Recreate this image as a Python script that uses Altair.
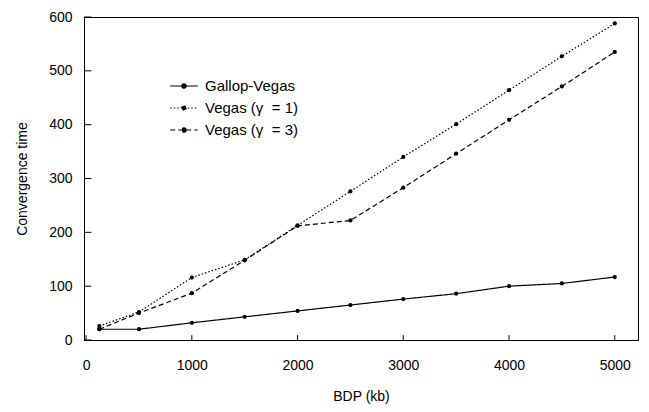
import altair as alt
import pandas as pd

bdp = [125, 500, 1000, 1500, 2000, 2500, 3000, 3500, 4000, 4500, 5000]
gallop = [20, 20, 32, 43, 54, 65, 76, 86, 100, 105, 117]
vegas1 = [26, 52, 116, 149, 213, 276, 340, 401, 464, 527, 588]
vegas3 = [20, 50, 87, 148, 212, 222, 283, 346, 409, 471, 535]
series_names = ["Gallop-Vegas", "Vegas (γ\u00a0\u00a0= 1)", "Vegas (γ\u00a0\u00a0= 3)"]
x_ticks = [0, 1000, 2000, 3000, 4000, 5000]
y_ticks = [0, 100, 200, 300, 400, 500, 600]

rows = []
for name, vals in zip(series_names, [gallop, vegas1, vegas3]):
    for x, y in zip(bdp, vals):
        rows.append({"bdp": x, "t": y, "series": name})
df = pd.DataFrame(rows)

FONT = "Liberation Sans"
xscale = alt.Scale(domain=[-20, 5220], nice=False, zero=False)
yscale = alt.Scale(domain=[0, 600], nice=False)

dash = alt.StrokeDash(
    "series:N",
    scale=alt.Scale(domain=series_names, range=[[1, 0], [1.5, 2], [5, 3]]),
    sort=series_names,
    legend=alt.Legend(
        title=None,
        orient="none",
        legendX=88,
        legendY=57,
        symbolType="M-1.25,0H1.25M0.2,0A0.2,0.2,0,1,1,-0.2,0A0.2,0.2,0,1,1,0.2,0Z",
        symbolSize=484,
        symbolStrokeWidth=1.2,
        symbolStrokeColor="black",
        symbolFillColor="black",
        labelFont=FONT,
        labelFontSize=15,
        labelColor="black",
        labelOffset=9,
        rowPadding=2,
    ),
)

xaxis = alt.Axis(values=x_ticks, format="d", ticks=False, grid=False, labelFont=FONT, labelFontSize=14,
                 labelColor="black", labelPadding=18, title="BDP (kb)", titleFont=FONT,
                 titleFontSize=14, titleFontWeight="normal", titleColor="black", titlePadding=17,
                 domainColor="black", labelFlush=False)
yaxis = alt.Axis(values=y_ticks, format="d", ticks=False, grid=False, labelFont=FONT, labelFontSize=14,
                 labelColor="black", labelPadding=12, title="Convergence time", titleFont=FONT,
                 titleFontSize=14, titleFontWeight="normal", titleColor="black", titlePadding=19,
                 domainColor="black", labelFlush=False)

base = alt.Chart(df)
lines = base.mark_line(color="black", strokeWidth=1.2).encode(
    x=alt.X("bdp:Q", scale=xscale, axis=xaxis),
    y=alt.Y("t:Q", scale=yscale, axis=yaxis),
    strokeDash=dash,
    detail="series:N",
)
points = base.mark_circle(color="black", size=18, opacity=1).encode(
    x=alt.X("bdp:Q", scale=xscale),
    y=alt.Y("t:Q", scale=yscale),
)

xt = pd.DataFrame({"v": x_ticks})
yt = pd.DataFrame({"v": y_ticks})
xtick_marks = alt.Chart(xt).mark_rule(color="black", strokeWidth=1).encode(
    x=alt.X("v:Q", scale=xscale),
    y=alt.datum(0, scale=yscale),
    y2=alt.datum(9),
)
ytick_marks = alt.Chart(yt).mark_rule(color="black", strokeWidth=1).encode(
    y=alt.Y("v:Q", scale=yscale),
    x=alt.datum(-20, scale=xscale),
    x2=alt.datum(50),
)

chart = alt.layer(lines, points, xtick_marks, ytick_marks).properties(
    width=554,
    height=323,
    autosize=alt.AutoSizeParams(type="none"),
    padding={"left": 84, "top": 17, "right": 11, "bottom": 72},
    background="white",
).configure_view(stroke="black", strokeWidth=1)

chart.save("out.html", embed_options={"renderer": "svg", "actions": False})
